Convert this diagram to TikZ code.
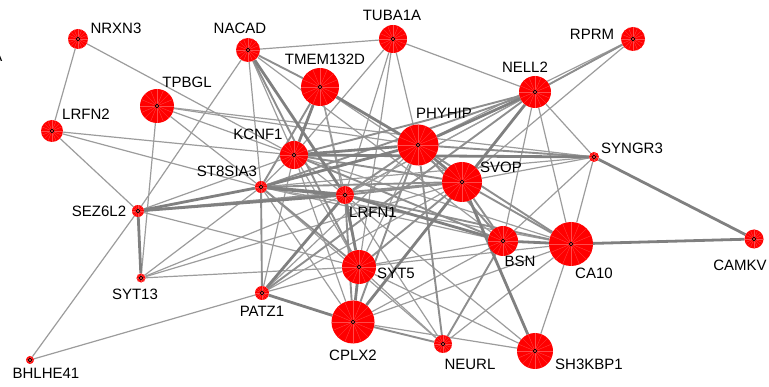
\documentclass[tikz,border=0pt]{standalone}
\usepackage{fontspec}
\setmainfont{Liberation Sans}
\pgfdeclarelayer{background}
\pgfsetlayers{background,main}
\definecolor{ethin}{HTML}{9C9C9C}
\definecolor{emed}{HTML}{8E8E8E}
\definecolor{ethick}{HTML}{808080}
\definecolor{nodered}{HTML}{FF0000}
\definecolor{spokecol}{HTML}{FF4A4A}
\begin{document}
\begin{tikzpicture}[x=1pt,y=-1pt,
  gn/.style={circle,fill=nodered,draw=none,inner sep=0pt,
    path picture={\foreach \a in {0,22.5,...,337.5}
      \draw[spokecol,line width=0.3pt] (path picture bounding box.center) -- ++(\a:30pt);}},
  lbl/.style={inner sep=0pt,font=\fontsize{15}{18}\selectfont,text=black},
  et/.style={draw=ethin,line width=1.2pt},
  em/.style={draw=emed,line width=1.9pt},
  ek/.style={draw=ethick,line width=2.8pt},
  mk/.style={draw=black,line width=0.7pt}]
\useasboundingbox (0,0) rectangle (769,387);
% nodes
\node[gn,minimum size=20pt] (NRXN3) at (78,39) {};
\node[gn,minimum size=24pt] (NACAD) at (248,50) {};
\node[gn,minimum size=28pt] (TUBA1A) at (393,39) {};
\node[gn,minimum size=24pt] (RPRM) at (633,39) {};
\node[gn,minimum size=38pt] (TMEM132D) at (320,87) {};
\node[gn,minimum size=34pt] (TPBGL) at (157,106) {};
\node[gn,minimum size=32pt] (NELL2) at (535,92) {};
\node[gn,minimum size=22pt] (LRFN2) at (52,131) {};
\node[gn,minimum size=28pt] (KCNF1) at (294,155) {};
\node[gn,minimum size=41pt] (PHYHIP) at (418,145) {};
\node[gn,minimum size=10pt] (SYNGR3) at (594,157) {};
\node[gn,minimum size=40pt] (SVOP) at (462,182) {};
\node[gn,minimum size=12pt] (ST8SIA3) at (261,187) {};
\node[gn,minimum size=18pt] (LRFN1) at (345,195) {};
\node[gn,minimum size=12pt] (SEZ6L2) at (138,211) {};
\node[gn,minimum size=30pt] (BSN) at (503,241) {};
\node[gn,minimum size=44pt] (CA10) at (571,244) {};
\node[gn,minimum size=19pt] (CAMKV) at (754,239) {};
\node[gn,minimum size=34pt] (SYT5) at (359,267) {};
\node[gn,minimum size=9pt] (SYT13) at (141,278) {};
\node[gn,minimum size=14pt] (PATZ1) at (262,293) {};
\node[gn,minimum size=43pt] (CPLX2) at (353,322) {};
\node[gn,minimum size=18pt] (NEURL) at (443,344) {};
\node[gn,minimum size=36pt] (SH3KBP1) at (535,351) {};
\node[gn,minimum size=8pt] (BHLHE41) at (30,360) {};
\foreach \n in {NRXN3,NACAD,TUBA1A,RPRM,TMEM132D,TPBGL,NELL2,LRFN2,KCNF1,PHYHIP,SYNGR3,SVOP,ST8SIA3,LRFN1,SEZ6L2,BSN,CA10,CAMKV,SYT5,SYT13,PATZ1,CPLX2,NEURL,SH3KBP1,BHLHE41}
  \draw[mk] (\n.center) circle (1.8pt);
% labels
\node[lbl,anchor=east] (panelA) at (2.5,56) {A};
\node[lbl] (tNRXN3) at (116,28) {NRXN3};
\node[lbl] (tNACAD) at (240,28) {NACAD};
\node[lbl] (tTUBA1A) at (392,15) {TUBA1A};
\node[lbl] (tRPRM) at (592,34) {RPRM};
\node[lbl] (tTMEM132D) at (325,59) {TMEM132D};
\node[lbl] (tTPBGL) at (187,82) {TPBGL};
\node[lbl] (tNELL2) at (525,67) {NELL2};
\node[lbl] (tLRFN2) at (86,114) {LRFN2};
\node[lbl] (tKCNF1) at (258,134) {KCNF1};
\node[lbl] (tPHYHIP) at (444,113) {PHYHIP};
\node[lbl] (tSYNGR3) at (632,148) {SYNGR3};
\node[lbl] (tSVOP) at (501,167) {SVOP};
\node[lbl] (tST8SIA3) at (227,171) {ST8SIA3};
\node[lbl] (tLRFN1) at (373,212) {LRFN1};
\node[lbl] (tSEZ6L2) at (99,211) {SEZ6L2};
\node[lbl] (tBSN) at (520,261) {BSN};
\node[lbl] (tCA10) at (594,273) {CA10};
\node[lbl] (tCAMKV) at (740,265) {CAMKV};
\node[lbl] (tSYT5) at (396,273) {SYT5};
\node[lbl] (tSYT13) at (135,294) {SYT13};
\node[lbl] (tPATZ1) at (262,311) {PATZ1};
\node[lbl] (tCPLX2) at (353,355) {CPLX2};
\node[lbl] (tNEURL) at (470,364) {NEURL};
\node[lbl] (tSH3KBP1) at (589,364) {SH3KBP1};
\node[lbl] (tBHLHE41) at (46,373) {BHLHE41};
% edges
\begin{pgfonlayer}{background}
\foreach \a/\b in {NRXN3/LRFN2,NRXN3/KCNF1,LRFN2/SEZ6L2,LRFN2/KCNF1,LRFN2/ST8SIA3,
  TPBGL/SYT13,TPBGL/ST8SIA3,TPBGL/KCNF1,TPBGL/PHYHIP,TPBGL/SYNGR3,
  NACAD/SEZ6L2,NACAD/TUBA1A,NACAD/ST8SIA3,NACAD/KCNF1,NACAD/BSN,
  TUBA1A/NELL2,TUBA1A/PHYHIP,TUBA1A/KCNF1,TUBA1A/SYT5,TUBA1A/LRFN1,
  RPRM/PHYHIP,RPRM/LRFN1,RPRM/SVOP,
  NELL2/SYNGR3,NELL2/BSN,NELL2/CA10,NELL2/LRFN1,
  PHYHIP/SYT5,PHYHIP/PATZ1,
  TMEM132D/LRFN1,TMEM132D/SVOP,TMEM132D/SYT5,
  KCNF1/ST8SIA3,KCNF1/SEZ6L2,KCNF1/PATZ1,KCNF1/SYT5,KCNF1/CPLX2,KCNF1/CA10,KCNF1/LRFN1,
  SEZ6L2/SYT5,SEZ6L2/BHLHE41,
  SYT13/ST8SIA3,SYT13/LRFN1,SYT13/SVOP,SYT13/SYT5,
  BHLHE41/PATZ1,
  ST8SIA3/BSN,ST8SIA3/CA10,ST8SIA3/CPLX2,ST8SIA3/SYNGR3,ST8SIA3/NEURL,
  LRFN1/NEURL,LRFN1/SH3KBP1,
  SVOP/SYNGR3,SVOP/PATZ1,
  SYNGR3/BSN,SYNGR3/CA10,
  BSN/SYT5,BSN/CPLX2,
  CA10/SH3KBP1,CA10/NEURL,CA10/CPLX2,CA10/SYT5,
  SYT5/NEURL,SYT5/SH3KBP1,SYT5/PATZ1,
  CPLX2/SH3KBP1}
  \draw[et] (\a) -- (\b);
\foreach \a/\b in {NACAD/TMEM132D,NACAD/SYT5,RPRM/NELL2,NELL2/KCNF1,NELL2/ST8SIA3,NELL2/PATZ1,
  PHYHIP/SYNGR3,PHYHIP/LRFN1,PHYHIP/BSN,PHYHIP/CA10,PHYHIP/CPLX2,PHYHIP/NEURL,
  TMEM132D/ST8SIA3,KCNF1/BSN,KCNF1/SVOP,SEZ6L2/SVOP,
  ST8SIA3/PATZ1,ST8SIA3/SVOP,ST8SIA3/SYT5,
  LRFN1/CPLX2,LRFN1/CA10,LRFN1/SVOP,
  SVOP/BSN,SVOP/CA10,SVOP/SYT5,BSN/NEURL,CPLX2/NEURL}
  \draw[em] (\a) -- (\b);
\foreach \a/\b in {NACAD/LRFN1,NELL2/PHYHIP,NELL2/CPLX2,
  PHYHIP/TMEM132D,PHYHIP/KCNF1,PHYHIP/SVOP,PHYHIP/ST8SIA3,
  TMEM132D/KCNF1,KCNF1/SYNGR3,
  SEZ6L2/SYT13,SEZ6L2/ST8SIA3,SEZ6L2/LRFN1,
  LRFN1/SYT5,LRFN1/PATZ1,LRFN1/BSN,
  SVOP/SH3KBP1,SYNGR3/CAMKV,BSN/CA10,CA10/CAMKV,
  SYT5/CPLX2,CPLX2/PATZ1}
  \draw[ek] (\a) -- (\b);
\draw[ek,line width=3.6pt] (ST8SIA3) -- (LRFN1);
\end{pgfonlayer}
\end{tikzpicture}
\end{document}
